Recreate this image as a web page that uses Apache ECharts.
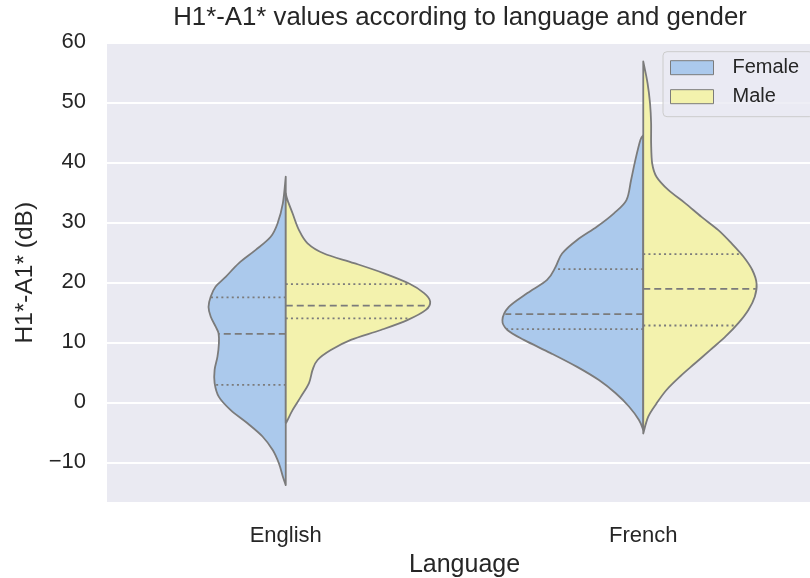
<!DOCTYPE html>
<html>
<head>
<meta charset="utf-8">
<script src="https://cdn.jsdelivr.net/npm/echarts@6/dist/echarts.min.js"></script>
<style>html,body{margin:0;padding:0;background:#fff}#c{width:810px;height:578px}</style>
</head>
<body>
<div id="c"></div>
<script>
// Categories and series
const languages = ['English', 'French'];
const genders = ['Female', 'Male'];
const yTickMin = -16.8, yTickMax = 60;

// Density profiles: [value (dB), half-width (fraction of category band)]
const enFemaleProfile = [[37.6,0],[33.2,0.008],[29.8,0.023],[27.6,0.042],[25.4,0.084],[23.2,0.131],[20.9,0.168],[19.3,0.196],[17.6,0.210],[15.9,0.216],[14.3,0.210],[12.6,0.196],[11.5,0.188],[9.8,0.187],[7.6,0.191],[5.4,0.199],[3.2,0.199],[0.9,0.187],[-1.3,0.154],[-3.5,0.107],[-5.7,0.065],[-8.0,0.036],[-10.2,0.019],[-12.4,0.008],[-13.8,0]];
const enMaleProfile = [[34.8,0],[33.7,0.005],[31.5,0.019],[28.7,0.037],[26.5,0.061],[24.8,0.107],[23.2,0.191],[21.5,0.275],[19.8,0.345],[18.2,0.387],[16.8,0.404],[15.4,0.392],[13.7,0.340],[12.05,0.266],[10.4,0.182],[8.7,0.126],[7.05,0.089],[5.4,0.075],[3.2,0.065],[0.9,0.042],[-1.3,0.019],[-3.2,0.003],[-3.4,0]];
const frFemaleProfile = [[44.5,0],[43.7,0.008],[40.4,0.022],[37.05,0.034],[33.7,0.047],[31.5,0.082],[29.3,0.129],[27.05,0.185],[24.8,0.227],[22.6,0.245],[20.4,0.269],[18.2,0.324],[15.9,0.376],[13.7,0.394],[12.05,0.380],[10.4,0.334],[8.2,0.259],[5.9,0.185],[3.7,0.124],[1.5,0.077],[-0.7,0.040],[-2.95,0.012],[-4.6,0]];
const frMaleProfile = [[56.8,0],[53.2,0.012],[49.8,0.019],[46.5,0.022],[43.2,0.022],[39.8,0.025],[37.6,0.037],[35.4,0.070],[33.2,0.117],[30.9,0.163],[28.7,0.210],[26.5,0.247],[24.3,0.280],[22.05,0.305],[19.8,0.317],[17.6,0.312],[15.4,0.294],[13.2,0.266],[10.9,0.229],[8.7,0.187],[6.5,0.145],[4.3,0.103],[2.05,0.065],[-0.2,0.037],[-2.4,0.014],[-5.2,0]];

// Quartiles [Q1, median, Q3]
const enFemaleQuartiles = [2.9, 11.4, 17.5];
const enMaleQuartiles = [14.0, 16.1, 19.7];
const frFemaleQuartiles = [12.2, 14.7, 22.2];
const frMaleQuartiles = [12.8, 18.9, 24.7];

const profiles = {
  Female: [enFemaleProfile, frFemaleProfile],
  Male: [enMaleProfile, frMaleProfile]
};
const quartiles = {
  Female: [enFemaleQuartiles, frFemaleQuartiles],
  Male: [enMaleQuartiles, frMaleQuartiles]
};

const colors = { Female: '#abc9ec', Male: '#f3f2ad' };
const lineGray = '#7b7b7b';
const textColor = '#262626';
const FONT = '"Liberation Sans", Arial, sans-serif';

function widthAt(profile, v) {
  for (let i = 0; i < profile.length - 1; i++) {
    const a = profile[i], b = profile[i + 1];
    if ((v <= a[0] && v >= b[0])) {
      const t = (a[0] - v) / (a[0] - b[0]);
      return a[1] + (b[1] - a[1]) * t;
    }
  }
  return 0;
}

function smoothPath(pts) {
  let d = 'M' + pts[0][0] + ',' + pts[0][1];
  for (let i = 0; i < pts.length - 1; i++) {
    const p0 = pts[Math.max(i - 1, 0)], p1 = pts[i], p2 = pts[i + 1], p3 = pts[Math.min(i + 2, pts.length - 1)];
    const c1x = p1[0] + (p2[0] - p0[0]) / 6, c1y = p1[1] + (p2[1] - p0[1]) / 6;
    const c2x = p2[0] - (p3[0] - p1[0]) / 6, c2y = p2[1] - (p3[1] - p1[1]) / 6;
    d += 'C' + c1x + ',' + c1y + ' ' + c2x + ',' + c2y + ' ' + p2[0] + ',' + p2[1];
  }
  return d + 'Z';
}

function makeSeries(name) {
  const sign = name === 'Female' ? -1 : 1;
  return {
    type: 'custom',
    name: name,
    itemStyle: { color: colors[name], borderColor: lineGray, borderWidth: 1 },
    data: languages.map((l, i) => [i, 0]),
    encode: { x: 0, y: 1 },
    renderItem: function (params, api) {
      const idx = api.value(0);
      const prof = profiles[name][idx];
      const cx = api.coord([idx, 0])[0];
      const band = api.size([1, 0])[0];
      const pts = prof.map(p => [cx + sign * p[1] * band, api.coord([idx, p[0]])[1]]);
      const children = [{
        type: 'path',
        shape: { pathData: smoothPath(pts) },
        style: { fill: colors[name], stroke: lineGray, lineWidth: 1.8, lineJoin: 'round' }
      }];
      quartiles[name][idx].forEach((q, k) => {
        const w = widthAt(prof, q) * band;
        const y = api.coord([idx, q])[1];
        children.push({
          type: 'line',
          shape: { x1: cx, y1: y, x2: cx + sign * w, y2: y },
          style: {
            stroke: lineGray, lineWidth: 1.8,
            lineDash: k === 1 ? [7, 4] : [2, 3.2]
          }
        });
      });
      return { type: 'group', children: children };
    }
  };
}

const chart = echarts.init(document.getElementById('c'), null, { renderer: 'canvas' });
chart.setOption({
  animation: false,
  backgroundColor: '#ffffff',
  textStyle: { fontFamily: FONT },
  graphic: [{
    type: 'text',
    x: 460, y: 18,
    style: {
      text: 'H1*-A1* values according to language and gender',
      fill: textColor, font: '25.8px ' + FONT,
      textAlign: 'center', textVerticalAlign: 'middle'
    }
  }],
  grid: {
    left: 107, top: 42.3, width: 715, height: 460.8,
    outerBoundsMode: 'none',
    containLabel: false,
    show: true, backgroundColor: '#eaeaf2', borderWidth: 0
  },
  legend: {
    data: genders,
    orient: 'vertical',
    left: 663, top: 51.7,
    icon: 'rect',
    itemWidth: 43, itemHeight: 14,
    itemGap: 9,
    padding: [6, 14, 10, 7],
    backgroundColor: 'rgba(234,234,242,0.8)',
    borderColor: '#cccccc', borderWidth: 1, borderRadius: 4,
    itemStyle: { borderColor: lineGray, borderWidth: 1 },
    textStyle: { fontSize: 20, color: textColor, fontFamily: FONT, lineHeight: 20, padding: [0, 0, 0, 14] }
  },
  xAxis: {
    type: 'category',
    data: languages,
    boundaryGap: true,
    name: 'Language',
    nameLocation: 'middle',
    nameGap: 50,
    nameTextStyle: { fontSize: 25, color: textColor, fontFamily: FONT },
    axisLine: { show: false },
    axisTick: { show: false },
    splitLine: { show: false },
    axisLabel: { fontSize: 22, color: textColor, margin: 22, fontFamily: FONT }
  },
  yAxis: {
    type: 'value',
    min: yTickMin, max: yTickMax,
    splitNumber: 8,
    name: 'H1*-A1* (dB)',
    nameLocation: 'middle',
    nameGap: 69,
    nameTextStyle: { fontSize: 24.5, color: textColor, fontFamily: FONT },
    axisLine: { show: false },
    axisTick: { show: false },
    splitLine: { show: true, lineStyle: { color: '#ffffff', width: 1.8 } },
    axisLabel: {
      fontSize: 22, color: textColor, margin: 21, fontFamily: FONT,
      showMinLabel: false,
      formatter: v => String(v).replace('-', '\u2212')
    }
  },
  series: genders.map(makeSeries)
});
</script>
</body>
</html>
